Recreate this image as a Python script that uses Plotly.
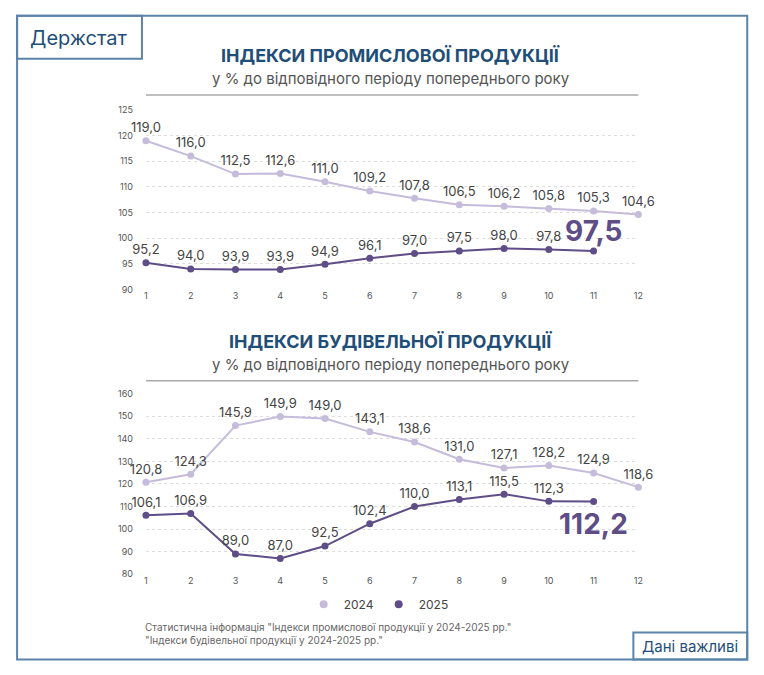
import plotly.graph_objects as go

W, H = 764, 675
months = list(range(1, 13))
ind = {2024: [119.0, 116.0, 112.5, 112.6, 111.0, 109.2, 107.8, 106.5, 106.2, 105.8, 105.3, 104.6],
       2025: [95.2, 94.0, 93.9, 93.9, 94.9, 96.1, 97.0, 97.5, 98.0, 97.8, 97.5]}
bud = {2024: [120.8, 124.3, 145.9, 149.9, 149.0, 143.1, 138.6, 131.0, 127.1, 128.2, 124.9, 118.6],
       2025: [106.1, 106.9, 89.0, 87.0, 92.5, 102.4, 110.0, 113.1, 115.5, 112.3, 112.2]}
colors = {2024: '#c5bcdb', 2025: '#5e4d86'}


# page is shown slightly offset/scaled, so correct pixel positions
def px(x):
    return ((x - 8.9) / 0.992) / W


def py(y):
    return 1 - ((y - 14.3) / 0.981) / H


def fmt(v):
    return f'{v:.1f}'.replace('.', ',')


fig = go.Figure()
for data, xa, ya, shift in [(ind, 'x', 'y', 20), (bud, 'x2', 'y2', -22)]:
    for yr, vals in data.items():
        txt = [fmt(v) for v in vals]
        if yr == 2025:
            txt[-1] = ''
        fig.add_trace(go.Scatter(
            x=months[:len(vals)], y=vals, mode='lines+markers+text', name=str(yr),
            text=txt, textposition='top center', cliponaxis=False,
            textfont=dict(size=13, color='#444444', family='Inter'),
            line=dict(color=colors[yr], width=2), marker=dict(size=7, color=colors[yr]),
            xaxis=xa, yaxis=ya, showlegend=False))
    fig.add_annotation(x=11, y=data[2025][-1], xref=xa, yref=ya, text='<b>' + fmt(data[2025][-1]) + '</b>',
                       showarrow=False, yshift=shift, font=dict(size=28, color='#5e4d86', family='Inter'))

# legend: markers only
for yr in colors:
    fig.add_trace(go.Scatter(x=[None], y=[None], mode='markers', name=str(yr),
                             marker=dict(size=8, color=colors[yr])))

ax = dict(range=[1, 12], showgrid=False, zeroline=False, tickmode='linear', dtick=1,
          tickfont=dict(size=9, color='#555555'), showline=False, ticks='')
ay = dict(showgrid=True, gridcolor='#dddddd', griddash='dot', zeroline=False, ticklabelstandoff=12,
          tickfont=dict(size=9, color='#555555'), ticks='', showline=False)
fig.update_layout(
    width=W, height=H, margin=dict(l=0, r=0, t=0, b=0),
    paper_bgcolor='white', plot_bgcolor='white', font=dict(family='Inter'),
    xaxis=dict(ax, domain=[px(145), px(638)], anchor='y'),
    yaxis=dict(ay, domain=[py(289), py(110)], range=[90, 125], dtick=5, anchor='x'),
    xaxis2=dict(ax, domain=[px(145), px(638)], anchor='y2'),
    yaxis2=dict(ay, domain=[py(573), py(393)], range=[80, 160], dtick=10, anchor='x2'),
    legend=dict(orientation='h', x=px(378), y=py(603), xanchor='center', yanchor='middle',
                itemwidth=30, font=dict(size=12, color='#444444')),
)

shapes = [
    dict(type='rect', x0=px(16), x1=px(747), y0=py(16), y1=py(658), line=dict(color='#5b84a8', width=2)),
    dict(type='rect', x0=px(16), x1=px(141), y0=py(16), y1=py(59), line=dict(color='#5b84a8', width=2)),
    dict(type='rect', x0=px(633), x1=px(747), y0=py(631), y1=py(658), line=dict(color='#5b84a8', width=2)),
    dict(type='line', x0=px(145), x1=px(638), y0=py(95), y1=py(95), line=dict(color='#aaaaaa', width=1.5)),
    dict(type='line', x0=px(145), x1=px(638), y0=py(380), y1=py(380), line=dict(color='#aaaaaa', width=1.5)),
]
for s in shapes:
    s.update(xref='paper', yref='paper')
fig.update_layout(shapes=shapes)

texts = [
    (78, 38, 'Держстат', 20, '#1f4e79', 'center'),
    (390, 56, '<b>ІНДЕКСИ ПРОМИСЛОВОЇ ПРОДУКЦІЇ</b>', 18, '#1f4e79', 'center'),
    (390, 79, 'у % до відповідного періоду попереднього року', 15, '#555555', 'center'),
    (390, 341, '<b>ІНДЕКСИ БУДІВЕЛЬНОЇ ПРОДУКЦІЇ</b>', 18, '#1f4e79', 'center'),
    (390, 364, 'у % до відповідного періоду попереднього року', 15, '#555555', 'center'),
    (690, 645, 'Дані важливі', 15, '#1f4e79', 'center'),
]
for x, y, t, s, c, a in texts:
    fig.add_annotation(x=px(x), y=py(y), xref='paper', yref='paper', text=t, showarrow=False,
                       xanchor=a, yanchor='middle', font=dict(size=s, color=c, family='Inter'))
fig.add_annotation(x=px(142), y=py(632), xref='paper', yref='paper', showarrow=False, align='left',
                   xanchor='left', yanchor='middle', font=dict(size=10, color='#666666'),
                   text='Статистична інформація "Індекси промислової продукції у 2024-2025 рр."<br>'
                        '"Індекси будівельної продукції у 2024-2025 рр."')

fig.write_html('out.html')
